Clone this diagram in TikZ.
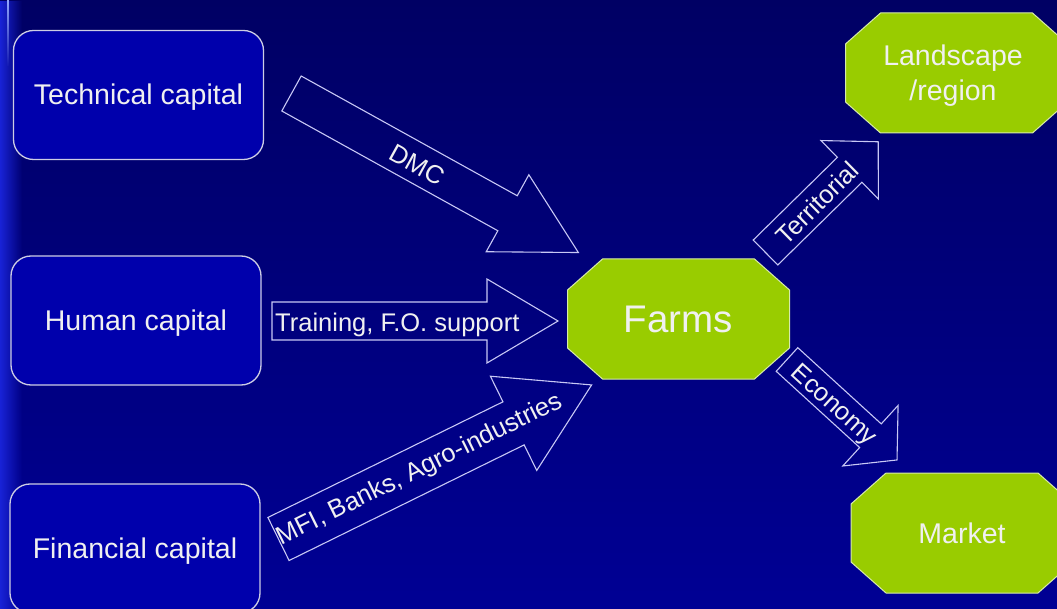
\documentclass[tikz,border=0pt]{standalone}
\usepackage{fontspec}
\setmainfont{Liberation Sans}
\usetikzlibrary{fadings}

\definecolor{bgtop}{RGB}{0,0,100}
\definecolor{bgbot}{RGB}{0,0,148}
\definecolor{boxblue}{RGB}{0,0,172}
\definecolor{edgegray}{RGB}{205,205,228}
\definecolor{lime}{RGB}{153,204,0}
\definecolor{limeedge}{RGB}{215,235,170}
\definecolor{arrowedge}{RGB}{200,200,245}
\definecolor{txt}{RGB}{240,240,240}
\definecolor{strip}{RGB}{25,35,215}
\definecolor{stripline}{RGB}{150,170,255}

\tikzset{
  capbox/.style={draw=edgegray, line width=1.3pt, fill=boxblue, rounded corners=20pt,
    minimum width=250pt, minimum height=129pt, inner sep=0pt, text=txt,
    text height=20pt, text depth=0pt,
    font=\fontsize{28.5}{34}\selectfont},
  octtext/.style={text=txt, align=center, inner sep=0pt, font=\fontsize{28.5}{35}\selectfont},
  octshape/.style={fill=lime, draw=limeedge, line width=1pt},
  arrowoutline/.style={draw=arrowedge, line width=1.1pt, line join=miter},
  arrowlabel/.style={text=txt, inner sep=0pt, font=\fontsize{25.5}{30}\selectfont},
}

% chamfered green box around a named centre
\newcommand\octagonat[1]{%
  \filldraw[octshape, shift={(#1)}]
    (-76,-60) -- (76,-60) -- (111,-29) -- (111,29) -- (76,60) -- (-76,60)
    -- (-111,29) -- (-111,-29) -- cycle;}

% outlined block arrow: tail, angle, length, shaft width, head width, head length
\newcommand\blockarrow[6]{%
  \draw[arrowoutline, shift={(#1)}, rotate=#2]
    (0,-#4/2) -- (#3-#6,-#4/2) -- (#3-#6,-#5/2) -- (#3,0)
    -- (#3-#6,#5/2) -- (#3-#6,#4/2) -- (0,#4/2) -- cycle;}

\begin{document}
\begin{tikzpicture}[x=1pt, y=-1pt]
  \useasboundingbox (0,0) rectangle (1057,609);

  % backdrop
  \shade[top color=bgtop, bottom color=bgbot] (0,0) rectangle (1057,609);
  \fill[strip, path fading=east] (0,0) rectangle (22,609);
  \draw[stripline, line width=2pt, path fading=south] (8,0) -- (8,66);

  % capital boxes
  \node[capbox] (tech) at (138.5,95)  {Technical capital};
  \node[capbox] (human) at (136,320.5) {Human capital};
  \node[capbox] (fin) at (135,548.5)  {Financial capital};

  % green targets
  \coordinate (farmsC)  at (678.5,319);
  \coordinate (landC)   at (956.5,73);
  \coordinate (marketC) at (962,533);
  \octagonat{farmsC}
  \octagonat{landC}
  \octagonat{marketC}
  \node[octtext, font=\fontsize{38.5}{44}\selectfont] (farms) at (farmsC) {Farms};
  \node[octtext] (land) at (953,76) {Landscape\\/region};
  \node[octtext] (market) at (marketC) {Market};

  % block arrows
  \coordinate (dmcT)   at (291.5,93.5);
  \coordinate (trainT) at (272,321);
  \coordinate (mfiT)   at (278.5,539);
  \coordinate (terrT)  at (765.5,252.5);
  \coordinate (ecoT)   at (787,359.5);
  \blockarrow{dmcT}{-29}{328}{40}{88}{81}
  \blockarrow{trainT}{0}{286}{38}{84}{71}
  \blockarrow{mfiT}{26.2}{349}{48}{105}{87}
  \blockarrow{terrT}{44.5}{158}{35}{82}{40}
  \blockarrow{ecoT}{-42.4}{149}{32}{82}{36}

  % arrow labels
  \node[arrowlabel, rotate=-29] (dmcL) at (417,165) {DMC};
  \node[arrowlabel, anchor=base west] (trainL) at (275,332) {Training, F.O. support};
  \node[arrowlabel, rotate=26.2] (mfiL) at (420,470) {MFI, Banks, Agro-industries};
  \node[arrowlabel, rotate=44.5] (terrL) at (817,203) {Territorial};
  \node[arrowlabel, rotate=-42.4] (ecoL) at (833,406) {Economy};
\end{tikzpicture}
\end{document}
